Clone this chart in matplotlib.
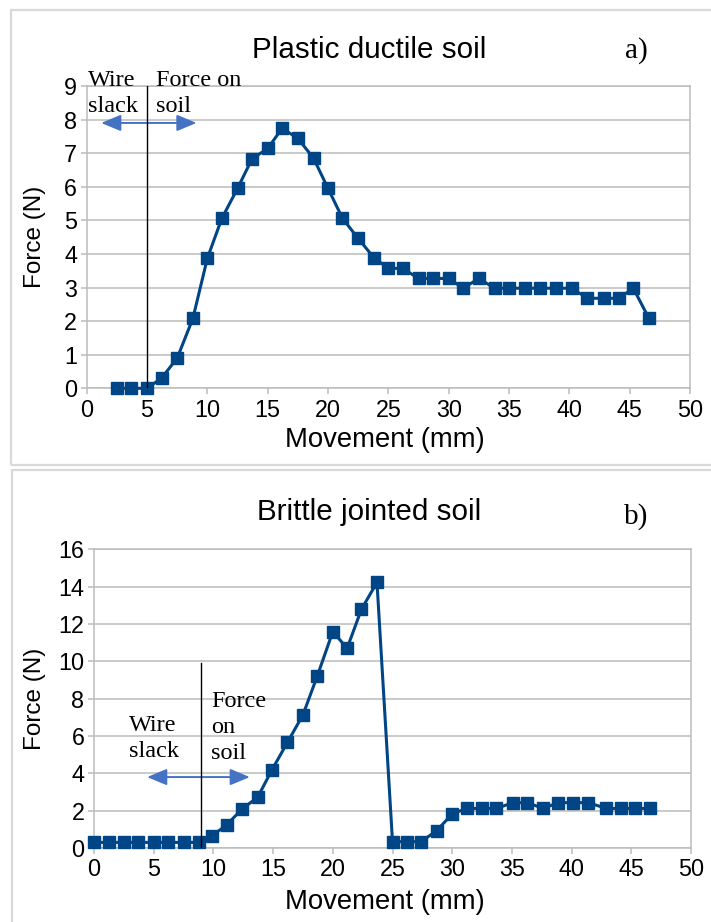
import matplotlib.pyplot as plt
from matplotlib.patches import Rectangle

plt.rcParams['font.family'] = ['Liberation Sans', 'DejaVu Sans']

# dados (movimento em mm, forca em N)
mov_a = [2.5, 3.7, 5.0, 6.2, 7.5, 8.8, 10.0, 11.2, 12.5, 13.7, 15.0, 16.2,
         17.5, 18.8, 20.0, 21.2, 22.5, 23.8, 25.0, 26.2, 27.5, 28.7, 30.0, 31.2,
         32.5, 33.8, 35.0, 36.3, 37.6, 38.9, 40.2, 41.5, 42.9, 44.1, 45.3, 46.6]
force_a = [0, 0, 0, 0.3, 0.9, 2.08, 3.87, 5.06, 5.95, 6.83, 7.14, 7.74,
           7.44, 6.85, 5.95, 5.06, 4.46, 3.89, 3.57, 3.57, 3.27, 3.27, 3.27, 2.98,
           3.27, 2.98, 2.98, 2.98, 2.98, 2.98, 2.98, 2.68, 2.68, 2.68, 2.98, 2.08]

mov_b = [0, 1.25, 2.5, 3.7, 5.0, 6.2, 7.5, 8.8, 9.9, 11.1, 12.4, 13.7, 14.9,
         16.2, 17.5, 18.7, 20.0, 21.2, 22.4, 23.7, 25.0, 26.2, 27.4, 28.7, 30.0,
         31.2, 32.5, 33.7, 35.1, 36.3, 37.6, 38.9, 40.1, 41.4, 42.9, 44.1, 45.3, 46.6]
force_b = [0.3, 0.3, 0.3, 0.3, 0.3, 0.3, 0.3, 0.3, 0.66, 1.23, 2.09, 2.71, 4.18,
           5.66, 7.13, 9.21, 11.59, 10.70, 12.79, 14.23, 0.34, 0.34, 0.34, 0.93, 1.82,
           2.12, 2.12, 2.12, 2.43, 2.43, 2.12, 2.43, 2.43, 2.43, 2.12, 2.12, 2.12, 2.12]

titles = ["Plastic ductile soil", "Brittle jointed soil"]
letters = ["a)", "b)"]
yticks_a = list(range(0, 10))
yticks_b = list(range(0, 17, 2))
xticks = list(range(0, 51, 5))

LINE = '#004586'
GRID = '#bcbcbc'
ARROW = '#4472c4'
W, H = 711, 922

fig = plt.figure(figsize=(W / 100, H / 100), dpi=100)


def px(x0, y0, x1, y1):
    """converte retangulo em pixels (topo-esquerda) para coords da figura"""
    return [x0 / W, 1 - y1 / H, (x1 - x0) / W, (y1 - y0) / H]


# molduras dos dois paineis
fig.patches.append(Rectangle((11 / W, 1 - 465 / H), 1.0, (465 - 10) / H,
                             transform=fig.transFigure, fill=False,
                             edgecolor='#d9d9d9', lw=1.6))
fig.patches.append(Rectangle((12 / W, -0.05), 1.0, 0.05 + (922 - 470) / H,
                             transform=fig.transFigure, fill=False,
                             edgecolor='#d9d9d9', lw=1.6))

ax1 = fig.add_axes(px(86.7, 86, 690, 388.3))
ax2 = fig.add_axes(px(94, 549.3, 691, 848))

for ax, xs, ys, yt in [(ax1, mov_a, force_a, yticks_a), (ax2, mov_b, force_b, yticks_b)]:
    ax.plot(xs, ys, color=LINE, lw=2.2, marker='s', markersize=9, zorder=3,
            clip_on=False)
    ax.set_xlim(0, 50)
    ax.set_ylim(yt[0], yt[-1])
    ax.set_xticks(xticks)
    ax.set_yticks(yt)
    ax.grid(True, axis='y', color=GRID, lw=1.1)
    ax.set_axisbelow(True)
    for s in ax.spines.values():
        s.set_color(GRID)
        s.set_linewidth(1.1)
    ax.tick_params(colors=GRID, labelcolor='black', labelsize=16.8, length=4.5,
                   width=1.1)
    ax.tick_params(axis='x', pad=3)
    ax.tick_params(axis='y', pad=2.5)
    ax.set_xlabel("Movement (mm)", fontsize=19.8)
    ax.set_ylabel("Force (N)", fontsize=17.5)

ax1.xaxis.set_label_coords(0.495, -0.171)
ax2.xaxis.set_label_coords(0.487, -0.18)
ax1.yaxis.set_label_coords(-0.0857, 0.5)
ax2.yaxis.set_label_coords(-0.0988, 0.5)
for ax in (ax1, ax2):
    ax.xaxis.label.set_va('center')
    ax.yaxis.label.set_va('center')

# titulos e letras
fig.text(369 / W, 1 - 58 / H, titles[0], fontsize=21.3, ha='center', va='baseline')
fig.text(636 / W, 1 - 58 / H, letters[0], fontsize=21, ha='center', va='baseline',
         family='Liberation Serif')
fig.text(369.5 / W, 1 - 520 / H, titles[1], fontsize=21.3, ha='center', va='baseline')
fig.text(636 / W, 1 - 524 / H, letters[1], fontsize=21, ha='center', va='baseline',
         family='Liberation Serif')

# va='baseline' aqui alinha a ultima linha do texto
serif = dict(family='Liberation Serif', fontsize=17.5, va='baseline',
             clip_on=False)
arrow = dict(arrowstyle='<|-|>,head_length=0.6,head_width=0.25', color=ARROW,
             lw=1.4, mutation_scale=20, shrinkA=0, shrinkB=0)

# painel a: fio frouxo / forca no solo
ax1.plot([5.0, 5.0], [0, 9], color='black', lw=1.0, zorder=4)
ax1.annotate('', xy=(1.2, 7.9), xytext=(9.1, 7.9), arrowprops=arrow)
ax1.text(0.1, 8.22, "Wire\nslack", linespacing=1.33, **serif)
ax1.text(5.75, 8.22, "Force on\nsoil", linespacing=1.33, **serif)

# painel b
ax2.plot([9.0, 9.0], [0, 9.9], color='black', lw=1.0, zorder=4)
ax2.annotate('', xy=(4.45, 3.8), xytext=(13.05, 3.8), arrowprops=arrow)
ax2.text(2.95, 4.87, "Wire\nslack", linespacing=1.3, **serif)
ax2.text(9.8, 4.78, "Force\non\nsoil", linespacing=1.3, **serif)

fig.savefig("out.png", dpi=100)
